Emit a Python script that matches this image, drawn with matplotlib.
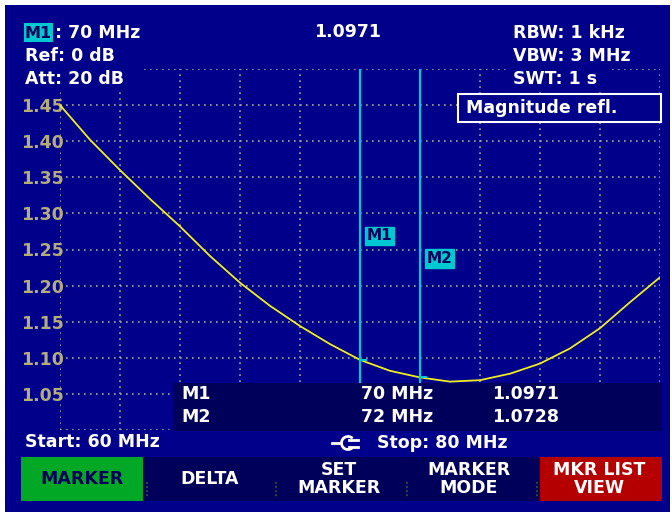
import matplotlib.pyplot as plt
from matplotlib.patches import Rectangle, Arc
import numpy as np

# trace (MHz, magnitude of reflection)
freq_mhz = [60, 61, 62, 63, 64, 65, 66, 67, 68, 69, 70,
            71, 72, 73, 74, 75, 76, 77, 78, 79, 80]
refl = [1.450, 1.402, 1.360, 1.320, 1.282, 1.241, 1.204, 1.172, 1.144, 1.119, 1.0971,
        1.082, 1.0728, 1.067, 1.069, 1.078, 1.092, 1.113, 1.141, 1.177, 1.2115]

marker_names = ['M1', 'M2']
marker_freqs = [70, 72]
marker_vals = [1.0971, 1.0728]

y_ticks = [1.05, 1.10, 1.15, 1.20, 1.25, 1.30, 1.35, 1.40, 1.45]
softkeys = ['MARKER', 'DELTA', 'SET\nMARKER', 'MARKER\nMODE', 'MKR LIST\nVIEW']

BG = '#00008a'
NAVY = '#00005a'
CYAN = '#00c8d2'
YEL = '#eeee20'
GRID = '#a8a890'
KHAKI = '#b4ac7c'
FS = 12.5

fig = plt.figure(figsize=(6.72, 5.12), dpi=100, facecolor='white')

# background layer
bg = fig.add_axes([0, 0, 1, 1], zorder=0)
bg.set_xlim(0, 672)
bg.set_ylim(512, 0)
bg.axis('off')
bg.add_patch(Rectangle((5, 5), 665, 507, facecolor=BG, edgecolor='none'))

# measurement axes
ax = fig.add_axes([60 / 672, (512 - 430) / 512, 600 / 672, 361 / 512], zorder=1)
ax.patch.set_visible(False)
ax.set_xlim(60, 80)
ax.set_ylim(1.0, 1.5)
ax.set_xticks(np.arange(60, 81, 2))
ax.set_xticklabels([])
ax.set_yticks(np.arange(1.0, 1.501, 0.05))
ax.set_yticklabels([''] + ['%.2f' % v for v in y_ticks] + [''])
ax.tick_params(length=0, pad=-3, labelcolor=KHAKI, labelsize=FS)
for lab in ax.get_yticklabels():
    lab.set_fontweight('bold')
for s in ax.spines.values():
    s.set_visible(False)
ax.grid(True, color=GRID, linestyle=(0, (1, 2.6)), linewidth=1.2)
ax.set_axisbelow(True)

ax.plot(freq_mhz, refl, color=YEL, linewidth=1.3, zorder=3)
for name, f, v, yl in zip(marker_names, marker_freqs, marker_vals, [1.2687, 1.2375]):
    ax.axvline(f, color=CYAN, linewidth=1.6, zorder=4)
    ax.plot([f, f + 0.2], [v, v], color=CYAN, linewidth=1.5, zorder=4)
    ax.text(f + 0.22, yl, name, color=NAVY, fontsize=11, fontweight='bold',
            ha='left', va='center', zorder=5,
            bbox=dict(facecolor=CYAN, edgecolor=CYAN, pad=1.2))

# overlay layer (pixel coordinates)
ov = fig.add_axes([0, 0, 1, 1], zorder=2)
ov.set_xlim(0, 672)
ov.set_ylim(512, 0)
ov.axis('off')
ov.patch.set_visible(False)


def txt(x, y, s, color='white', ha='left', size=FS, **kw):
    ov.text(x, y, s, color=color, ha=ha, va='center', fontsize=size,
            fontweight='bold', linespacing=1.05, **kw)


# header blocks hide the grid
ov.add_patch(Rectangle((5, 5), 139, 87, facecolor=BG, edgecolor='none'))
ov.add_patch(Rectangle((508, 5), 104, 86, facecolor=BG, edgecolor='none'))
ov.add_patch(Rectangle((458, 94), 203, 28, facecolor=BG, edgecolor='white', linewidth=1.5))

ov.add_patch(Rectangle((24, 23), 29, 19, facecolor=CYAN, edgecolor='none'))
txt(38.5, 33, 'M1', color=NAVY, ha='center', size=11.5)
txt(55, 33, ': 70 MHz')
txt(25, 56, 'Ref: 0 dB')
txt(25, 79, 'Att: 20 dB')
txt(348, 32, '%.4f' % marker_vals[0], ha='center')
txt(513, 33, 'RBW: 1 kHz')
txt(513, 56, 'VBW: 3 MHz')
txt(513, 79, 'SWT: 1 s')
txt(466, 108, 'Magnitude refl.')

# marker table
ov.add_patch(Rectangle((173, 383), 489, 48, facecolor=NAVY, edgecolor='none'))
for i, (name, f, v) in enumerate(zip(marker_names, marker_freqs, marker_vals)):
    yy = 394 + i * 23
    txt(181, yy, name)
    txt(361, yy, '%d MHz' % f)
    txt(492, yy, '%.4f' % v)

# start / stop line
txt(25, 442, 'Start: %d MHz' % freq_mhz[0])
txt(377, 443, 'Stop: %d MHz' % freq_mhz[-1])
ov.plot([332, 341], [443, 443], color='white', linewidth=2)
ov.add_patch(Arc((348, 443), 13, 13, theta1=45, theta2=315, color='white', linewidth=2))
ov.plot([349, 358], [439.5, 439.5], color='white', linewidth=2)
ov.plot([349, 358], [446.5, 446.5], color='white', linewidth=2)

# softkey bar
ov.add_patch(Rectangle((21, 457), 641, 44, facecolor=NAVY, edgecolor='none'))
ov.add_patch(Rectangle((21, 457), 122, 44, facecolor='#00a826', edgecolor='none'))
ov.add_patch(Rectangle((540, 457), 122, 44, facecolor='#b40000', edgecolor='none'))
for xs in [147, 276, 407, 537]:
    ov.plot([xs, xs], [482, 497], color='#2a6a2a', linewidth=1.2, linestyle=(0, (1, 1.5)))
key_x = [82, 210, 339, 469, 599]
for i, (k, kx) in enumerate(zip(softkeys, key_x)):
    col = NAVY if i == 0 else 'white'
    txt(kx, 479, k, color=col, ha='center')

fig.savefig('out.png', dpi=100, facecolor=fig.get_facecolor())
